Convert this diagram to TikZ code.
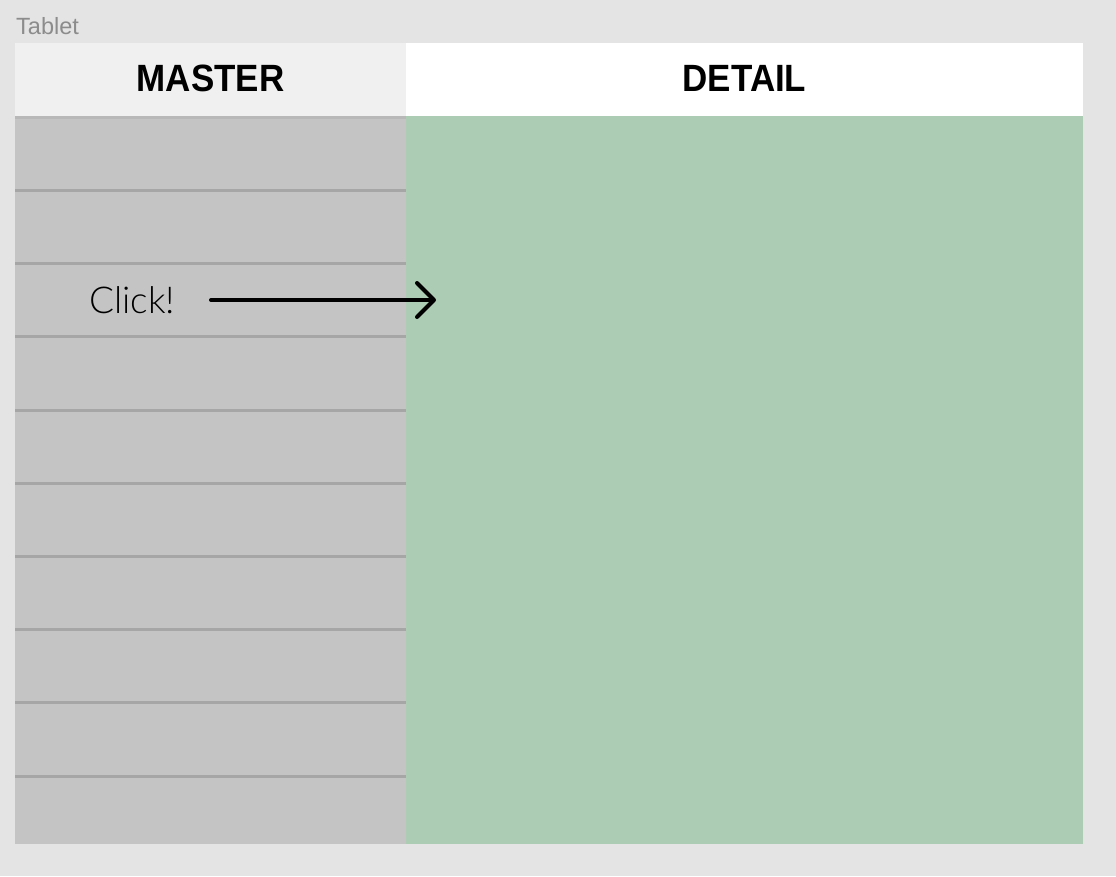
\documentclass[tikz,border=0pt]{standalone}
\usepackage{fontspec}
\setmainfont{Liberation Sans}
\newfontfamily\hdrfont[FakeStretch=0.92]{Liberation Sans Bold}
\newfontfamily\clickfont{Lato Light}
\usetikzlibrary{arrows.meta}
\definecolor{bgc}{HTML}{E4E4E4}
\definecolor{masterhdr}{HTML}{F0F0F0}
\definecolor{mastercol}{HTML}{C4C4C4}
\definecolor{rowline}{HTML}{A6A6A6}
\definecolor{toprow}{HTML}{B8B8B8}
\definecolor{detailcol}{HTML}{ACCDB4}
\definecolor{labelgray}{HTML}{8C8C8C}
\tikzset{
  hdrtext/.style={font=\hdrfont\fontsize{38}{40}\selectfont, text=black, inner sep=0pt},
  rowsep/.style={draw=rowline, line width=3pt},
  clickarrow/.style={line width=4pt, -{Straight Barb[length=17pt, width=34pt, line cap=round, line join=round]}, line cap=round}
}
\begin{document}
\begin{tikzpicture}[x=1pt, y=-1pt]
\useasboundingbox (0,0) rectangle (1116,876);
\fill[bgc] (0,0) rectangle (1116,876);
% label
\node[anchor=base west, inner sep=0pt, text=labelgray, font=\fontsize{23.5}{26}\selectfont] (tablet) at (16,34) {Tablet};
% headers
\fill[masterhdr] (15,43) rectangle (406,116);
\fill[white] (406,43) rectangle (1083,116);
\node[hdrtext] (master) at (210.5,78.5) {MASTER};
\node[hdrtext] (detail) at (744.5,78.5) {DETAIL};
% columns
\fill[mastercol] (15,116) rectangle (406,844);
\fill[detailcol] (406,116) rectangle (1083,844);
\draw[draw=toprow, line width=3pt] (15,117.5) -- (406,117.5);
\foreach \y in {190.5,263.7,336.9,410.1,483.3,556.5,629.7,702.9,776.1}{
  \draw[rowsep] (15,\y) -- (406,\y);
}
% click
\node[anchor=base west, inner sep=0pt, font=\clickfont\fontsize{37}{40}\selectfont] (click) at (89,313) {Click!};
\coordinate (start) at (211,300);
\coordinate (target) at (436,300);
\draw[clickarrow] (start) -- (target);
\end{tikzpicture}
\end{document}
